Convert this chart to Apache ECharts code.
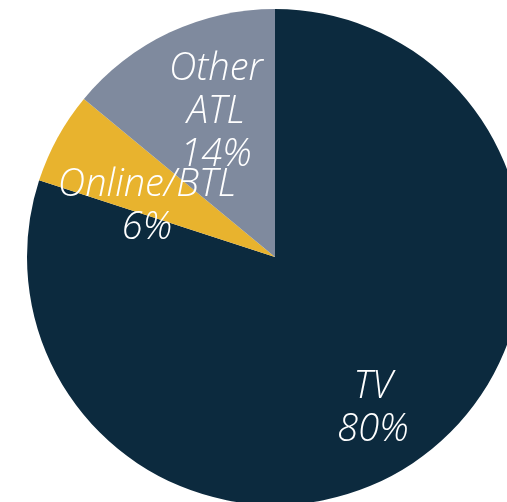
<!DOCTYPE html>
<html><head><meta charset="utf-8">
<script src="https://cdn.jsdelivr.net/npm/echarts@6/dist/echarts.min.js"></script>
<style>html,body{margin:0;padding:0;background:#fff}#c{width:507px;height:502px}</style>
</head><body><div id="c"></div>
<script>
const categories = ['TV', 'Online/BTL', 'Other\nATL'];
const values = [80, 6, 14];
const colors = ['#0c2a3e', '#e8b32e', '#7f8a9e'];
const labelOffsets = [[98, 152], [-128, -50], [-59, -145]];

const chart = echarts.init(document.getElementById('c'), null, {renderer: 'canvas'});
chart.setOption({
  animation: false,
  series: [{
    type: 'pie',
    center: [275, 257],
    radius: [0, 248],
    startAngle: 90,
    clockwise: true,
    avoidLabelOverlap: false,
    label: {
      show: true,
      position: 'center',
      formatter: p => p.name + '\n' + p.value + '%',
      color: '#fff',
      fontFamily: 'Open Sans',
      fontStyle: 'italic',
      fontWeight: 300,
      fontSize: 38,
      lineHeight: 43
    },
    labelLayout: {hideOverlap: false},
    labelLine: {show: false},
    itemStyle: {borderWidth: 0},
    data: categories.map((n, i) => ({
      name: n, value: values[i],
      itemStyle: {color: colors[i]},
      label: {offset: labelOffsets[i]}
    }))
  }]
});
</script></body></html>
